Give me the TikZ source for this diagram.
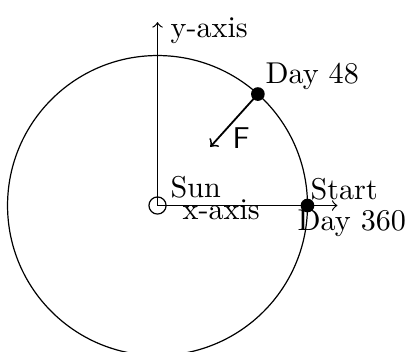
\documentclass[tikz,border=0pt]{standalone}
\usetikzlibrary{positioning}

\begin{document}
\begin{tikzpicture}[
        dot/.style={circle, fill=black, inner sep=0pt, minimum size=0.16cm},
        sunmark/.style={circle, draw, inner sep=0pt, minimum size=0.2cm},
        lbl/.style={inner sep=0pt, anchor=base west},
        axis/.style={->},
        force/.style={->, semithick}
      ]
        \useasboundingbox (-1.838,-1.709) rectangle (2.911,2.398);
        \draw (0,0) circle (1.75cm);
        \node[sunmark] (sun) at (0,0) {};
        \coordinate (xend) at (2.1,0);
        \coordinate (yend) at (0,2.14);
        \draw[axis] (sun.center) -- (xend);
        \draw[axis] (sun.center) -- (yend);
        \node[dot] (start) at (0:1.75) {};
        \node[dot] (day48) at (48:1.75) {};
        \coordinate (pull) at (48:0.92);
        \draw[force] (day48.center) -- (pull);
        \node[lbl] (sunlbl) at (0.146,0.088) {Sun};
        \node[lbl] (xlbl) at (0.286,-0.169) {x-axis};
        \node[lbl] (ylbl) at (0.146,1.96) {y-axis};
        \node[lbl] (startlbl) at (1.78,0.076) {Start};
        \node[lbl] (endlbl) at (1.628,-0.286) {Day 360};
        \node[lbl] (d48lbl) at (1.254,1.418) {Day 48};
        \node[lbl] (flbl) at (0.869,0.671) {\sffamily F};
      \end{tikzpicture}
\end{document}
